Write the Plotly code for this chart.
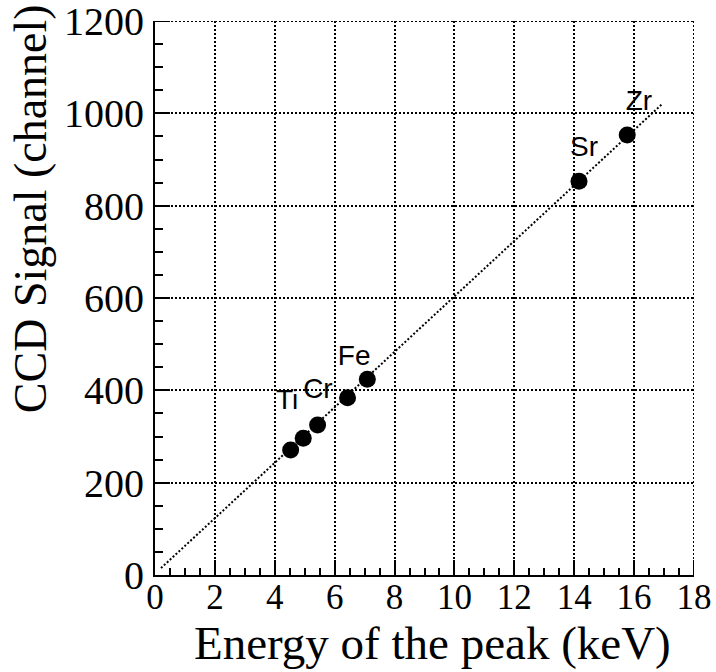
import plotly.graph_objects as go

# Data
energy_kev = [4.53, 4.95, 5.43, 6.43, 7.09, 14.16, 15.77]
ccd_signal = [271, 296, 325, 384, 424, 853, 953]

element_labels = ["Ti", "Cr", "Fe", "Sr", "Zr"]
label_x = [4.41, 5.44, 6.65, 14.33, 16.16]
label_y = [375, 399, 470, 922, 1022]

fit_x = [0.2, 16.95]
fit_y = [15, 1021]

x_range = [0, 18]
y_range = [0, 1200]
x_ticks = [0, 2, 4, 6, 8, 10, 12, 14, 16, 18]
y_ticks = [0, 200, 400, 600, 800, 1000, 1200]

serif = "Liberation Serif, Times New Roman, serif"
sans = "Liberation Sans, Arial, sans-serif"

fig = go.Figure()

fig.add_trace(go.Scatter(
    x=fit_x, y=fit_y, mode="lines",
    line=dict(color="black", width=2, dash="2px,2px"),
    hoverinfo="skip", showlegend=False,
))

fig.add_trace(go.Scatter(
    x=energy_kev, y=ccd_signal, mode="markers",
    marker=dict(color="black", size=17, line=dict(width=0)),
    showlegend=False,
))

fig.add_trace(go.Scatter(
    x=label_x, y=label_y, mode="text", text=element_labels,
    textfont=dict(family=sans, size=28, color="black"),
    textposition="middle center",
    hoverinfo="skip", showlegend=False,
))

# dotted frame lines at the top and right (gridlines at range ends)
fig.add_shape(type="line", xref="x", yref="y",
              x0=x_range[0], x1=x_range[1], y0=y_range[1], y1=y_range[1],
              line=dict(color="black", width=2, dash="2px,2px"))
fig.add_shape(type="line", xref="x", yref="y",
              x0=x_range[1], x1=x_range[1], y0=y_range[0], y1=y_range[1],
              line=dict(color="black", width=2, dash="2px,2px"))
# major ticks at the range ends (plotly clips these)
fig.add_shape(type="line", xref="x", yref="y", xsizemode="pixel", xanchor=x_range[0],
              x0=0, x1=15, y0=y_range[1], y1=y_range[1],
              line=dict(color="black", width=2))
fig.add_shape(type="line", xref="x", yref="y", ysizemode="pixel", yanchor=y_range[0],
              y0=0, y1=15, x0=x_range[1], x1=x_range[1],
              line=dict(color="black", width=2))

grid_common = dict(
    showgrid=True, gridcolor="black", gridwidth=2, griddash="2px,2px",
    zeroline=False, showline=True, linecolor="black", linewidth=2,
    ticks="inside", tickcolor="black", tickwidth=2,
    automargin=False, ticklabeloverflow="allow",
)

fig.update_xaxes(
    range=x_range, tickvals=x_ticks, ticklen=15,
    minor=dict(ticks="inside", ticklen=7, dtick=0.5, tickcolor="black", tickwidth=2, showgrid=False),
    tickfont=dict(family=serif, size=35, color="black"),
    ticklabelstandoff=-10,
    **grid_common,
)
fig.update_yaxes(
    range=y_range, tickvals=y_ticks, ticklen=15,
    minor=dict(ticks="inside", ticklen=8, dtick=50, tickcolor="black", tickwidth=2, showgrid=False),
    tickfont=dict(family=serif, size=40, color="black"),
    ticklabelstandoff=1,
    **grid_common,
)

fig.add_annotation(text="Energy of the peak (keV)", xref="paper", yref="paper",
                   x=0.514, y=-0.123, xanchor="center", yanchor="middle",
                   showarrow=False, font=dict(family=serif, size=47, color="black"))
fig.add_annotation(text="CCD Signal (channel)", xref="paper", yref="paper",
                   x=-0.232, y=0.662, xanchor="center", yanchor="middle", textangle=-90,
                   showarrow=False, font=dict(family=serif, size=46, color="black"))

fig.update_layout(
    width=716, height=672,
    margin=dict(l=155, r=22, t=21, b=97, autoexpand=False),
    paper_bgcolor="white", plot_bgcolor="white",
    showlegend=False,
)

fig.write_html("out.html")
